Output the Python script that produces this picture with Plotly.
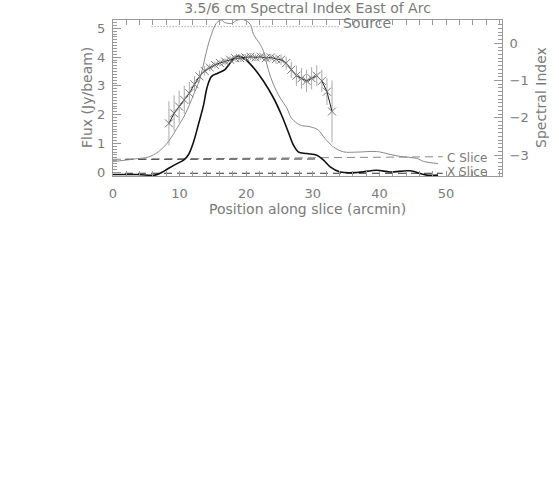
import plotly.graph_objects as go

# C slice (gray) flux profile
c_x = [0, 1.8, 3.5, 5.3, 6.8, 8.3, 9.6, 10.8, 12.1, 13.1, 13.8, 14.6, 15.6, 16.3, 16.8, 17.8,
       18.6, 19.6, 20.6, 21.1, 22.1, 22.6, 23.3, 24.1, 25.1, 26.1, 26.8, 28.1, 29.6, 30.8, 31.8,
       33.1, 34.6, 36.6, 39.6, 41.6, 43.1, 45.6, 46.6, 48.8]
c_flux = [0.37, 0.42, 0.47, 0.53, 0.71, 1.06, 1.53, 2.0, 2.7, 3.28, 3.97, 4.67, 5.2, 5.28, 5.2, 5.17,
          5.28, 5.3, 5.14, 4.79, 4.44, 4.2, 3.57, 3.04, 2.58, 2.23, 1.88, 1.64, 1.58, 1.47, 1.18,
          0.88, 0.71, 0.70, 0.72, 0.62, 0.55, 0.48, 0.38, 0.3]

# X slice (black) flux profile
x_x = [0, 3.7, 6.3, 7.3, 8.3, 9.6, 10.6, 11.3, 12.1, 12.8, 13.6, 14.1, 14.8, 15.8, 16.8, 17.8,
       18.6, 19.6, 21.1, 22.6, 24.1, 25.3, 26.3, 27.1, 27.8, 29.1, 30.6, 31.6, 32.6, 34.1, 36.6,
       39.6, 41.6, 44.6, 47.1, 48.8]
x_flux = [-0.08, -0.08, -0.1, -0.01, 0.13, 0.3, 0.42, 0.6, 1.06, 1.64, 2.34, 2.93, 3.33, 3.45, 3.57, 3.86,
          4.03, 3.97, 3.63, 3.16, 2.58, 1.99, 1.41, 0.94, 0.71, 0.65, 0.59, 0.42, 0.19, 0.01, -0.01,
          0.07, 0.01, 0.05, -0.1, -0.1]

# Spectral index
si_x = [8.40, 9.17, 9.93, 10.70, 11.46, 12.23, 12.99, 13.76, 14.52, 15.29, 16.05, 16.82, 17.58,
        18.35, 19.11, 19.88, 20.64, 21.41, 22.17, 22.94, 23.70, 24.47, 25.23, 26.00, 26.76, 27.53,
        28.29, 29.06, 29.82, 30.59, 31.35, 32.12, 32.88]
si_val = [-2.15, -1.88, -1.70, -1.52, -1.34, -1.10, -0.89, -0.74, -0.65, -0.58, -0.53, -0.49, -0.44,
          -0.40, -0.40, -0.38, -0.36, -0.38, -0.36, -0.40, -0.38, -0.42, -0.44, -0.53, -0.71, -0.87,
          -0.94, -1.01, -0.94, -0.87, -1.01, -1.30, -1.83]
si_err = [0.59, 0.48, 0.43, 0.38, 0.30, 0.22, 0.16, 0.13, 0.10, 0.09, 0.09, 0.09, 0.09,
          0.09, 0.09, 0.09, 0.09, 0.09, 0.09, 0.10, 0.10, 0.12, 0.14, 0.17, 0.22, 0.27,
          0.28, 0.30, 0.30, 0.28, 0.30, 0.36, 0.83]

# reference lines
source_x = [5.8, 34.1]
source_flux = [5.06, 5.06]
c_base_x = [0, 49.5]
c_base_flux = [0.45, 0.54]
x_base_upper_x = [1.8, 31.0]
x_base_upper_flux = [0.45, 0.46]
x_base_x = [1.8, 49.5]
x_base_flux = [-0.035, -0.035]

GRAY = "#8a8a8a"
TXT = "#7a7a7a"
FONT = "DejaVu Sans"

fig = go.Figure()
fig.add_trace(go.Scatter(x=c_base_x, y=c_base_flux, mode="lines",
                         line=dict(color=GRAY, width=1, dash="8px,5px")))
fig.add_trace(go.Scatter(x=x_base_upper_x, y=x_base_upper_flux, mode="lines",
                         line=dict(color="#333", width=1, dash="8px,5px")))
fig.add_trace(go.Scatter(x=x_base_x, y=x_base_flux, mode="lines",
                         line=dict(color="#333", width=1, dash="8px,5px")))
fig.add_trace(go.Scatter(x=source_x, y=source_flux, mode="lines",
                         line=dict(color=GRAY, width=1, dash="1px,2px")))
fig.add_trace(go.Scatter(x=c_x, y=c_flux, mode="lines", line=dict(color=GRAY, width=1, shape="spline")))
fig.add_trace(go.Scatter(x=x_x, y=x_flux, mode="lines", line=dict(color="#111", width=1.6, shape="spline")))
fig.add_trace(go.Scatter(x=si_x, y=si_val, yaxis="y2", mode="lines+markers",
                         line=dict(color="#222", width=1),
                         marker=dict(symbol="x-thin", size=8, line=dict(color="#777", width=1)),
                         error_y=dict(type="data", array=si_err, color="#aaaaaa", thickness=1, width=0)))

fig.add_annotation(x=34.3, y=5.17, xref="x", yref="y", text="Source", showarrow=False,
                   xanchor="left", yanchor="middle", font=dict(family=FONT, size=14, color=TXT))
fig.add_annotation(x=49.8, y=0.48, xref="x", yref="y", text="C Slice", showarrow=False,
                   xanchor="left", yanchor="middle", font=dict(family=FONT, size=12, color=TXT))
fig.add_annotation(x=49.8, y=0.0, xref="x", yref="y", text="X Slice", showarrow=False,
                   xanchor="left", yanchor="middle", font=dict(family=FONT, size=12, color=TXT))
# axis titles
fig.add_annotation(x=0.5, y=0, xref="paper", yref="paper", yanchor="top", yshift=-23,
                   text="Position along slice (arcmin)",
                   showarrow=False, font=dict(family=FONT, size=14, color=TXT))
fig.add_annotation(x=0, y=0.5, xref="paper", yref="paper", text="Flux (Jy/beam)", textangle=-90,
                   showarrow=False, xanchor="center", xshift=-26, font=dict(family=FONT, size=14, color=TXT))
fig.add_annotation(x=1, y=0.5, xref="paper", yref="paper", text="Spectral Index", textangle=-90,
                   showarrow=False, xanchor="center", xshift=39, font=dict(family=FONT, size=14, color=TXT))

axis_common = dict(showgrid=False, zeroline=False, showline=True, linecolor="#999", linewidth=1,
                   ticks="inside", tickcolor="#999", tickfont=dict(family=FONT, size=13, color=TXT))

W, H = 559, 504
fig.update_layout(
    width=W, height=H, plot_bgcolor="white", paper_bgcolor="white", showlegend=False,
    margin=dict(l=113, r=W - 502, t=20, b=H - 176),
    title=dict(text="3.5/6 cm Spectral Index East of Arc", x=0.5, xanchor="center", xref="paper",
               y=1 - 8.5 / H, yanchor="middle", font=dict(family=FONT, size=14, color=TXT)),
    xaxis=dict(range=[0, 58.4], tick0=0, dtick=10, ticklen=5, mirror="allticks", ticklabelstandoff=5,
               minor=dict(dtick=2, ticklen=3, ticks="inside", tickcolor="#999"), **axis_common),
    yaxis=dict(range=[-0.13, 5.29], tick0=0, dtick=1, ticklen=8, ticklabelstandoff=4,
               minor=dict(dtick=0.1, ticklen=4, ticks="inside", tickcolor="#999"), **axis_common),
    yaxis2=dict(range=[-3.564, 0.626], overlaying="y", side="right", tick0=0, dtick=1, ticklen=8,
                ticklabelstandoff=4, tickformat="d",
                minor=dict(dtick=0.1, ticklen=4, ticks="inside", tickcolor="#999"), **axis_common),
)
fig.write_html("out.html", config={"displayModeBar": False},
               post_script="document.body.style.margin='0';")
